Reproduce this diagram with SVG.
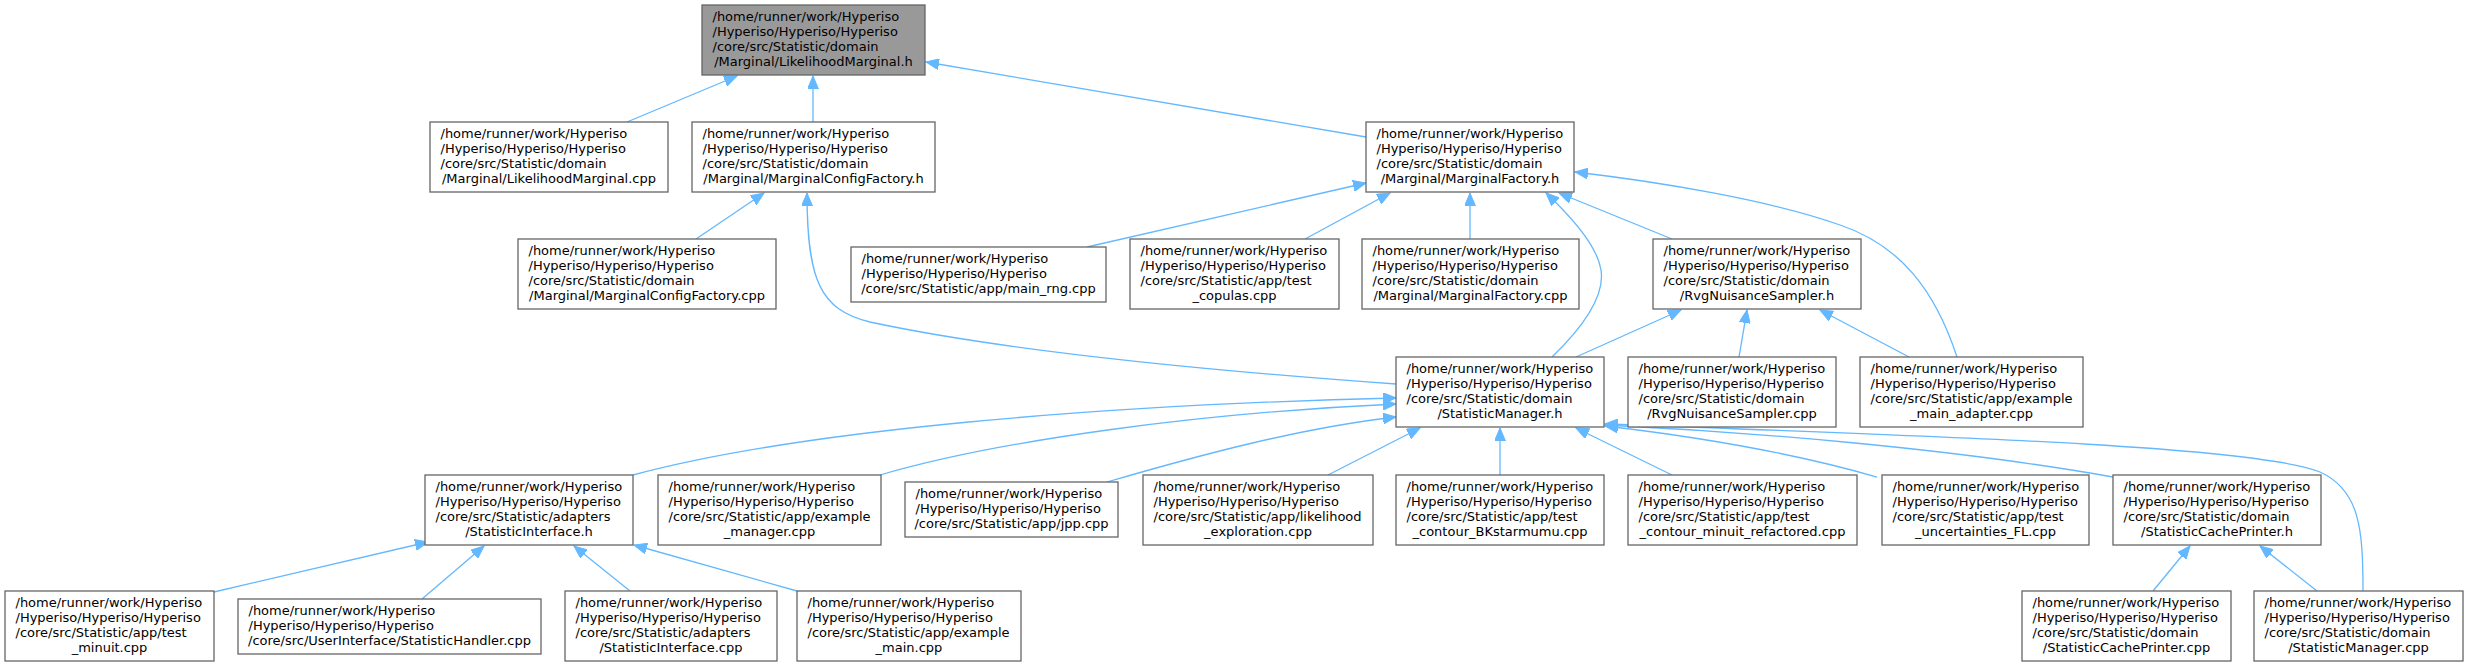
<svg xmlns="http://www.w3.org/2000/svg" width="2468" height="667" viewBox="0 0 2468 667">
<style>
.node rect{fill:#ffffff;stroke:#666666;stroke-width:1.3}
.root rect{fill:#999999}
text{font-family:"DejaVu Sans","Liberation Sans",sans-serif;font-size:13px;fill:#000000}
text.c{text-anchor:middle}
.edges path{fill:none;stroke:#63b8ff;stroke-width:1.3;marker-end:url(#arr)}
</style>
<defs>
<marker id="arr" markerUnits="userSpaceOnUse" markerWidth="14" markerHeight="11" refX="13" refY="5.5" orient="auto">
<path d="M0,0 L13,5.5 L0,11 z" fill="#63b8ff" stroke="#63b8ff" stroke-width="1"/>
</marker>
</defs>
<rect x="0" y="0" width="2468" height="667" fill="#ffffff"/>
<g class="edges" id="edges">
<path d="M627,122 L737,76"/>
<path d="M813,122 L813,76"/>
<path d="M1366,137 L926,62"/>
<path d="M696,239 L764,193"/>
<path d="M1396,384 C1200,370 1000,350 870,322 C820,310 807,280 807,193"/>
<path d="M1087,247 L1366,183"/>
<path d="M1305,239 L1390,193"/>
<path d="M1470,239 L1470,193"/>
<path d="M1672,239 L1559,193"/>
<path d="M1552,357 C1585,325 1605,295 1601,270 C1598,250 1580,225 1546,193"/>
<path d="M1957,357 C1935,290 1900,245 1840,225 C1770,200 1660,182 1575,172"/>
<path d="M1576,357 L1681,310"/>
<path d="M1739,357 L1747,310"/>
<path d="M1909,357 L1820,310"/>
<path d="M633,475 C800,430 1100,405 1396,398"/>
<path d="M880,475 C1000,440 1200,413 1396,404"/>
<path d="M1107,482 C1200,455 1300,428 1396,417"/>
<path d="M1328,475 L1420,428"/>
<path d="M1500,475 L1500,428"/>
<path d="M1672,475 L1576,428"/>
<path d="M1877,477 C1800,455 1700,437 1605,426"/>
<path d="M2113,477 C1950,448 1750,432 1605,425"/>
<path d="M2363,591 C2363,530 2360,490 2320,472 C2260,448 2000,438 1605,424"/>
<path d="M214,592 L428,542"/>
<path d="M422,599 L484,546"/>
<path d="M630,591 L574,546"/>
<path d="M797,591 L634,545"/>
<path d="M2153,591 L2190,546"/>
<path d="M2317,591 L2260,546"/>
</g>
<g id="n1" class="node root"><rect x="702" y="5" width="223" height="70"/><text x="712.5" y="21">/home/runner/work/Hyperiso</text><text x="712.5" y="36">/Hyperiso/Hyperiso/Hyperiso</text><text x="712.5" y="51">/core/src/Statistic/domain</text><text class="c" x="813.5" y="66">/Marginal/LikelihoodMarginal.h</text></g>
<g id="n2" class="node"><rect x="430" y="122" width="238" height="70"/><text x="440.5" y="138">/home/runner/work/Hyperiso</text><text x="440.5" y="153">/Hyperiso/Hyperiso/Hyperiso</text><text x="440.5" y="168">/core/src/Statistic/domain</text><text class="c" x="549" y="183">/Marginal/LikelihoodMarginal.cpp</text></g>
<g id="n3" class="node"><rect x="692" y="122" width="243" height="70"/><text x="702.5" y="138">/home/runner/work/Hyperiso</text><text x="702.5" y="153">/Hyperiso/Hyperiso/Hyperiso</text><text x="702.5" y="168">/core/src/Statistic/domain</text><text class="c" x="813.5" y="183">/Marginal/MarginalConfigFactory.h</text></g>
<g id="n4" class="node"><rect x="1366" y="122" width="208" height="70"/><text x="1376.5" y="138">/home/runner/work/Hyperiso</text><text x="1376.5" y="153">/Hyperiso/Hyperiso/Hyperiso</text><text x="1376.5" y="168">/core/src/Statistic/domain</text><text class="c" x="1470" y="183">/Marginal/MarginalFactory.h</text></g>
<g id="n5" class="node"><rect x="518" y="239" width="258" height="70"/><text x="528.5" y="255">/home/runner/work/Hyperiso</text><text x="528.5" y="270">/Hyperiso/Hyperiso/Hyperiso</text><text x="528.5" y="285">/core/src/Statistic/domain</text><text class="c" x="647" y="300">/Marginal/MarginalConfigFactory.cpp</text></g>
<g id="n6" class="node"><rect x="851" y="247" width="255" height="55"/><text x="861.5" y="263">/home/runner/work/Hyperiso</text><text x="861.5" y="278">/Hyperiso/Hyperiso/Hyperiso</text><text class="c" x="978.5" y="293">/core/src/Statistic/app/main_rng.cpp</text></g>
<g id="n7" class="node"><rect x="1130" y="239" width="209" height="70"/><text x="1140.5" y="255">/home/runner/work/Hyperiso</text><text x="1140.5" y="270">/Hyperiso/Hyperiso/Hyperiso</text><text x="1140.5" y="285">/core/src/Statistic/app/test</text><text class="c" x="1234.5" y="300">_copulas.cpp</text></g>
<g id="n8" class="node"><rect x="1362" y="239" width="217" height="70"/><text x="1372.5" y="255">/home/runner/work/Hyperiso</text><text x="1372.5" y="270">/Hyperiso/Hyperiso/Hyperiso</text><text x="1372.5" y="285">/core/src/Statistic/domain</text><text class="c" x="1470.5" y="300">/Marginal/MarginalFactory.cpp</text></g>
<g id="n9" class="node"><rect x="1653" y="239" width="208" height="70"/><text x="1663.5" y="255">/home/runner/work/Hyperiso</text><text x="1663.5" y="270">/Hyperiso/Hyperiso/Hyperiso</text><text x="1663.5" y="285">/core/src/Statistic/domain</text><text class="c" x="1757" y="300">/RvgNuisanceSampler.h</text></g>
<g id="n10" class="node"><rect x="1396" y="357" width="208" height="70"/><text x="1406.5" y="373">/home/runner/work/Hyperiso</text><text x="1406.5" y="388">/Hyperiso/Hyperiso/Hyperiso</text><text x="1406.5" y="403">/core/src/Statistic/domain</text><text class="c" x="1500" y="418">/StatisticManager.h</text></g>
<g id="n11" class="node"><rect x="1628" y="357" width="208" height="70"/><text x="1638.5" y="373">/home/runner/work/Hyperiso</text><text x="1638.5" y="388">/Hyperiso/Hyperiso/Hyperiso</text><text x="1638.5" y="403">/core/src/Statistic/domain</text><text class="c" x="1732" y="418">/RvgNuisanceSampler.cpp</text></g>
<g id="n12" class="node"><rect x="1860" y="357" width="223" height="70"/><text x="1870.5" y="373">/home/runner/work/Hyperiso</text><text x="1870.5" y="388">/Hyperiso/Hyperiso/Hyperiso</text><text x="1870.5" y="403">/core/src/Statistic/app/example</text><text class="c" x="1971.5" y="418">_main_adapter.cpp</text></g>
<g id="n13" class="node"><rect x="425" y="475" width="208" height="70"/><text x="435.5" y="491">/home/runner/work/Hyperiso</text><text x="435.5" y="506">/Hyperiso/Hyperiso/Hyperiso</text><text x="435.5" y="521">/core/src/Statistic/adapters</text><text class="c" x="529" y="536">/StatisticInterface.h</text></g>
<g id="n14" class="node"><rect x="658" y="475" width="223" height="70"/><text x="668.5" y="491">/home/runner/work/Hyperiso</text><text x="668.5" y="506">/Hyperiso/Hyperiso/Hyperiso</text><text x="668.5" y="521">/core/src/Statistic/app/example</text><text class="c" x="769.5" y="536">_manager.cpp</text></g>
<g id="n15" class="node"><rect x="905" y="482" width="213" height="55"/><text x="915.5" y="498">/home/runner/work/Hyperiso</text><text x="915.5" y="513">/Hyperiso/Hyperiso/Hyperiso</text><text class="c" x="1011.5" y="528">/core/src/Statistic/app/jpp.cpp</text></g>
<g id="n16" class="node"><rect x="1143" y="475" width="230" height="70"/><text x="1153.5" y="491">/home/runner/work/Hyperiso</text><text x="1153.5" y="506">/Hyperiso/Hyperiso/Hyperiso</text><text x="1153.5" y="521">/core/src/Statistic/app/likelihood</text><text class="c" x="1258" y="536">_exploration.cpp</text></g>
<g id="n17" class="node"><rect x="1396" y="475" width="208" height="70"/><text x="1406.5" y="491">/home/runner/work/Hyperiso</text><text x="1406.5" y="506">/Hyperiso/Hyperiso/Hyperiso</text><text x="1406.5" y="521">/core/src/Statistic/app/test</text><text class="c" x="1500" y="536">_contour_BKstarmumu.cpp</text></g>
<g id="n18" class="node"><rect x="1628" y="475" width="229" height="70"/><text x="1638.5" y="491">/home/runner/work/Hyperiso</text><text x="1638.5" y="506">/Hyperiso/Hyperiso/Hyperiso</text><text x="1638.5" y="521">/core/src/Statistic/app/test</text><text class="c" x="1742.5" y="536">_contour_minuit_refactored.cpp</text></g>
<g id="n19" class="node"><rect x="1882" y="475" width="207" height="70"/><text x="1892.5" y="491">/home/runner/work/Hyperiso</text><text x="1892.5" y="506">/Hyperiso/Hyperiso/Hyperiso</text><text x="1892.5" y="521">/core/src/Statistic/app/test</text><text class="c" x="1985.5" y="536">_uncertainties_FL.cpp</text></g>
<g id="n20" class="node"><rect x="2113" y="475" width="208" height="70"/><text x="2123.5" y="491">/home/runner/work/Hyperiso</text><text x="2123.5" y="506">/Hyperiso/Hyperiso/Hyperiso</text><text x="2123.5" y="521">/core/src/Statistic/domain</text><text class="c" x="2217" y="536">/StatisticCachePrinter.h</text></g>
<g id="n21" class="node"><rect x="5" y="591" width="209" height="70"/><text x="15.5" y="607">/home/runner/work/Hyperiso</text><text x="15.5" y="622">/Hyperiso/Hyperiso/Hyperiso</text><text x="15.5" y="637">/core/src/Statistic/app/test</text><text class="c" x="109.5" y="652">_minuit.cpp</text></g>
<g id="n22" class="node"><rect x="238" y="599" width="303" height="55"/><text x="248.5" y="615">/home/runner/work/Hyperiso</text><text x="248.5" y="630">/Hyperiso/Hyperiso/Hyperiso</text><text class="c" x="389.5" y="645">/core/src/UserInterface/StatisticHandler.cpp</text></g>
<g id="n23" class="node"><rect x="565" y="591" width="212" height="70"/><text x="575.5" y="607">/home/runner/work/Hyperiso</text><text x="575.5" y="622">/Hyperiso/Hyperiso/Hyperiso</text><text x="575.5" y="637">/core/src/Statistic/adapters</text><text class="c" x="671" y="652">/StatisticInterface.cpp</text></g>
<g id="n24" class="node"><rect x="797" y="591" width="224" height="70"/><text x="807.5" y="607">/home/runner/work/Hyperiso</text><text x="807.5" y="622">/Hyperiso/Hyperiso/Hyperiso</text><text x="807.5" y="637">/core/src/Statistic/app/example</text><text class="c" x="909" y="652">_main.cpp</text></g>
<g id="n25" class="node"><rect x="2022" y="591" width="209" height="70"/><text x="2032.5" y="607">/home/runner/work/Hyperiso</text><text x="2032.5" y="622">/Hyperiso/Hyperiso/Hyperiso</text><text x="2032.5" y="637">/core/src/Statistic/domain</text><text class="c" x="2126.5" y="652">/StatisticCachePrinter.cpp</text></g>
<g id="n26" class="node"><rect x="2254" y="591" width="209" height="70"/><text x="2264.5" y="607">/home/runner/work/Hyperiso</text><text x="2264.5" y="622">/Hyperiso/Hyperiso/Hyperiso</text><text x="2264.5" y="637">/core/src/Statistic/domain</text><text class="c" x="2358.5" y="652">/StatisticManager.cpp</text></g>
</svg>
